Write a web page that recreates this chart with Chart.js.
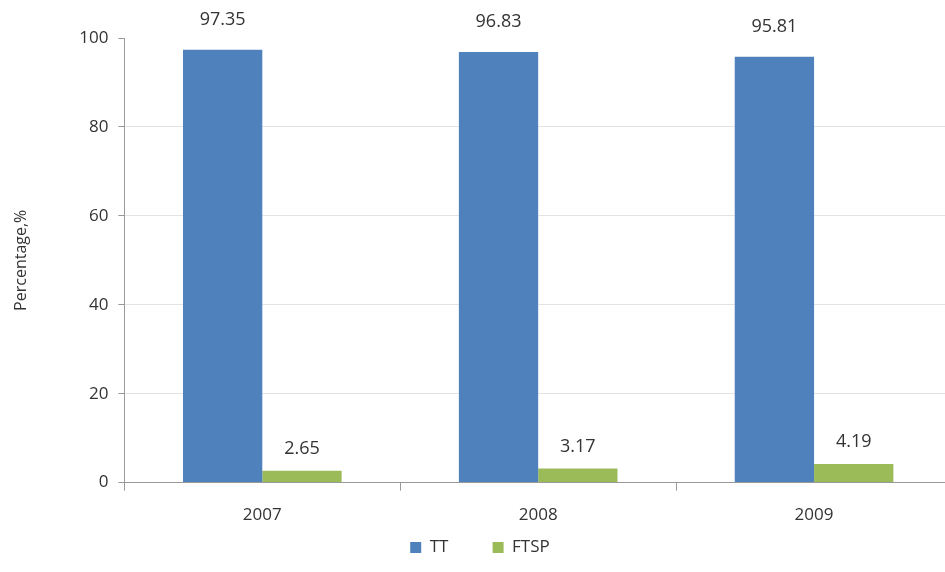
<!DOCTYPE html>
<html>
<head>
<meta charset="utf-8">
<script src="https://cdn.jsdelivr.net/npm/chart.js@4/dist/chart.umd.min.js"></script>
<style>
  html, body { margin: 0; padding: 0; background: #fff; overflow: hidden; }
  #wrap { width: 960px; height: 572px; }
</style>
</head>
<body>
<div id="wrap"><canvas id="chart" width="960" height="572"></canvas></div>
<script>
const years = ["2007", "2008", "2009"];
const ttValues = [97.35, 96.83, 95.81];
const ftspValues = [2.65, 3.17, 4.19];
const yTicks = [0, 20, 40, 60, 80, 100];

const FONT = "'Open Sans', 'Noto Sans', sans-serif";
const labelGap = [21, 13];

// value labels above each bar
const barLabels = {
    id: "barLabels",
    afterDatasetsDraw(chart) {
        const ctx = chart.ctx;
        ctx.save();
        ctx.font = "18px " + FONT;
        ctx.fillStyle = "#333";
        ctx.textAlign = "center";
        ctx.textBaseline = "bottom";
        chart.data.datasets.forEach((ds, i) => {
            chart.getDatasetMeta(i).data.forEach((bar, j) => {
                ctx.fillText(ds.data[j].toFixed(2), bar.x, bar.y - labelGap[i]);
            });
        });
        ctx.restore();
    },
};

new Chart(document.getElementById("chart"), {
    type: "bar",
    data: {
        labels: years,
        datasets: [
            { label: "TT", data: ttValues, backgroundColor: "#4F81BD" },
            { label: "FTSP", data: ftspValues, backgroundColor: "#9BBB59" },
        ],
    },
    options: {
        responsive: false,
        animation: false,
        layout: { padding: { top: 38, right: 8, left: 8, bottom: 6 } },
        datasets: { bar: { categoryPercentage: 0.575, barPercentage: 1 } },
        plugins: {
            tooltip: { enabled: false },
            legend: {
                position: "bottom",
                labels: {
                    font: { family: FONT, size: 17 },
                    color: "#333",
                    boxWidth: 11,
                    boxHeight: 11,
                    padding: 0,
                    // widen the gap after the first entry
                    generateLabels: chart => Chart.defaults.plugins.legend.labels.generateLabels(chart)
                        .map((item, i) => ({ ...item, text: i === 0 ? item.text + "          " : item.text })),
                },
            },
        },
        scales: {
            x: {
                grid: { drawOnChartArea: false, drawTicks: true, tickLength: 8, color: "#999" },
                border: { color: "#999" },
                ticks: { font: { family: FONT, size: 17 }, color: "#333", padding: 14 },
            },
            y: {
                min: 0,
                max: 100,
                afterBuildTicks: axis => { axis.ticks = yTicks.map(v => ({ value: v })); },
                grid: {
                    color: c => (c.tick && c.tick.value === 100 ? "rgba(0,0,0,0)" : "#e3e3e3"),
                    tickColor: "#999",
                    tickLength: 6,
                },
                border: { color: "#999" },
                ticks: { font: { family: FONT, size: 17 }, color: "#333", padding: 10 },
                title: {
                    display: true,
                    text: "Percentage,%",
                    font: { family: FONT, size: 16 },
                    color: "#333",
                    padding: { bottom: 38 },
                },
            },
        },
    },
    plugins: [barLabels],
});
</script>
</body>
</html>
